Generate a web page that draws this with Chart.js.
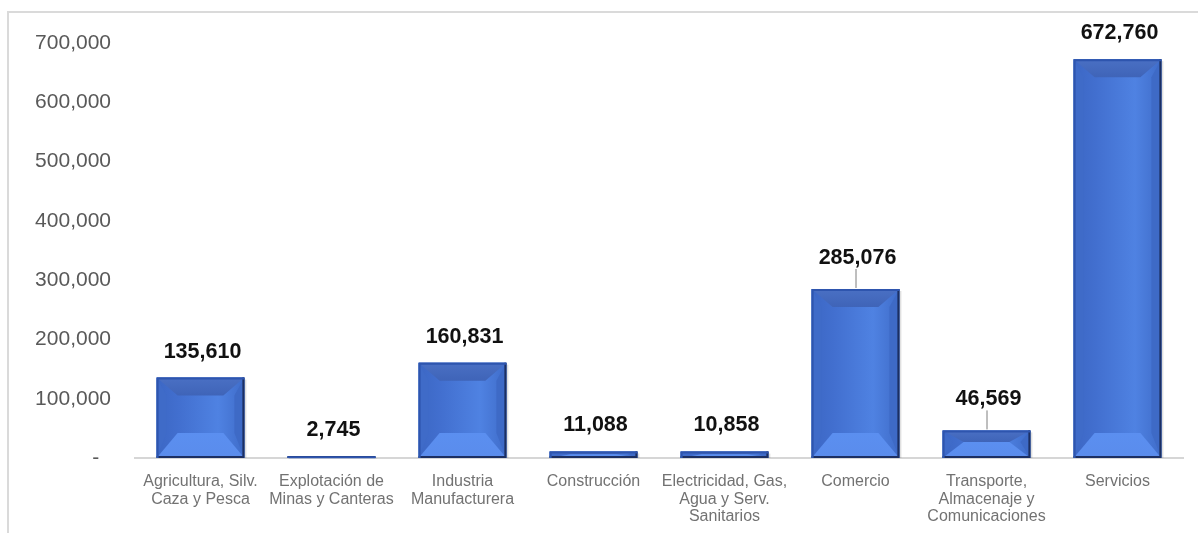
<!DOCTYPE html>
<html>
<head>
<meta charset="utf-8">
<script src="https://cdn.jsdelivr.net/npm/chart.js@4/dist/chart.umd.min.js"></script>
<style>
  html, body { margin: 0; padding: 0; background: #fff; }
  #wrap { position: relative; width: 1198px; height: 533px; }
  #frame { position: absolute; left: 7px; top: 11px; right: 0; bottom: 0;
           border-top: 2px solid #dadada; border-left: 2px solid #dadada; }
  canvas { position: absolute; left: 0; top: 0; }
</style>
</head>
<body>
<div id="wrap">
  <div id="frame"></div>
  <canvas id="chart" width="1198" height="533"></canvas>
</div>
<script>
const categories = [
    ['Agricultura, Silv.', 'Caza y Pesca'],
    ['Explotación de', 'Minas y Canteras'],
    ['Industria', 'Manufacturera'],
    'Construcción',
    ['Electricidad, Gas,', 'Agua y Serv.', 'Sanitarios'],
    'Comercio',
    ['Transporte,', 'Almacenaje y', 'Comunicaciones'],
    'Servicios'
];
const values = [135610, 2745, 160831, 11088, 10858, 285076, 46569, 672760];
const yTicks = [0, 100000, 200000, 300000, 400000, 500000, 600000, 700000];

let fmt = (v) => v.toLocaleString('en-US');

let poly = (ctx, pts, color) => {
    ctx.fillStyle = color;
    ctx.beginPath();
    ctx.moveTo(pts[0][0], pts[0][1]);
    for (let i = 1; i < pts.length; i++) ctx.lineTo(pts[i][0], pts[i][1]);
    ctx.closePath();
    ctx.fill();
}

// bevel look for each bar, drawn over the library's bar rectangles
let bevelPlugin = {
    id: 'bevel',
    afterDatasetsDraw(chart) {
        let ctx = chart.ctx;
        chart.getDatasetMeta(0).data.forEach((bar) => {
            let p = bar.getProps(['x', 'y', 'base', 'width'], true);
            let l = p.x - p.width / 2, r = p.x + p.width / 2;
            let t = p.y, b = p.base;
            let h = b - t;
            if (h < 1) return;
            let k = Math.min(1, h / 43);
            let dt = 18 * k, db = 25 * k, sx = 10, ix = 21;
            ctx.save();
            // center face
            let g = ctx.createLinearGradient(l, 0, r, 0);
            g.addColorStop(0, '#3c67c4');
            g.addColorStop(0.25, '#426fcf');
            g.addColorStop(0.7, '#4f82e2');
            g.addColorStop(1, '#3f6cc9');
            ctx.fillStyle = g;
            ctx.fillRect(l, t, p.width, h);
            // side strips
            poly(ctx, [[l, t], [l + sx, t + dt], [l + sx, b - db], [l, b]], '#3f6bc8');
            poly(ctx, [[r, t], [r - sx, t + dt], [r - sx, b - db], [r, b]], '#3e6ac6');
            // top face
            let gt = ctx.createLinearGradient(0, t, 0, t + dt);
            gt.addColorStop(0, '#4a70c4');
            gt.addColorStop(1, '#3f64b8');
            ctx.fillStyle = gt;
            ctx.beginPath();
            ctx.moveTo(l, t); ctx.lineTo(r, t); ctx.lineTo(r - ix, t + dt); ctx.lineTo(l + ix, t + dt);
            ctx.closePath();
            ctx.fill();
            // bottom face
            let gb = ctx.createLinearGradient(0, b - db, 0, b);
            gb.addColorStop(0, '#5b8ff0');
            gb.addColorStop(1, '#5a8cec');
            ctx.fillStyle = gb;
            ctx.beginPath();
            ctx.moveTo(l, b); ctx.lineTo(r, b); ctx.lineTo(r - ix, b - db); ctx.lineTo(l + ix, b - db);
            ctx.closePath();
            ctx.fill();
            // outlines
            ctx.lineWidth = 2;
            ctx.strokeStyle = '#1c2f62';
            ctx.beginPath();
            ctx.moveTo(r - 1, t); ctx.lineTo(r - 1, b - 1); ctx.lineTo(l, b - 1);
            ctx.stroke();
            ctx.strokeStyle = '#2e55ae';
            ctx.beginPath();
            ctx.moveTo(l + 1, b); ctx.lineTo(l + 1, t + 1); ctx.lineTo(r, t + 1);
            ctx.stroke();
            // faint shadow on the right
            ctx.fillStyle = 'rgba(0,0,0,0.12)';
            ctx.fillRect(r, t + 2, 2, h - 2);
            ctx.restore();
        });
    }
};

let labelPlugin = {
    id: 'valueLabels',
    afterDatasetsDraw(chart, args, opts) {
        let ctx = chart.ctx;
        ctx.save();
        ctx.font = 'bold 21.5px "Liberation Sans", Arial, sans-serif';
        ctx.fillStyle = '#111';
        ctx.textAlign = 'center';
        ctx.textBaseline = 'middle';
        chart.getDatasetMeta(0).data.forEach((bar, i) => {
            let lead = opts.leader.includes(i);
            let ly = bar.y - (lead ? 31 : 26);
            ctx.fillText(fmt(chart.data.datasets[0].data[i]), bar.x + 2, ly);
            if (lead) {
                ctx.strokeStyle = '#7f7f7f';
                ctx.lineWidth = 1;
                ctx.beginPath();
                ctx.moveTo(bar.x + 0.5, ly + 11);
                ctx.lineTo(bar.x + 0.5, bar.y - 1);
                ctx.stroke();
            }
        });
        ctx.restore();
    }
};

let ctx = document.querySelector('#chart').getContext('2d');
let chart = new Chart(ctx, {
    type: 'bar',
    data: {
        labels: categories,
        datasets: [{
            data: values,
            backgroundColor: '#4472c4',
            borderWidth: 0,
            barPercentage: 0.67,
            categoryPercentage: 1
        }]
    },
    options: {
        responsive: false,
        animation: false,
        devicePixelRatio: 1,
        layout: { padding: { left: 0, top: 43, right: 15, bottom: 0 } },
        plugins: {
            legend: { display: false },
            tooltip: { enabled: false },
            valueLabels: { leader: [5, 6] }
        },
        scales: {
            x: {
                grid: { display: false },
                border: { display: true, color: '#d6d6d6', width: 2 },
                afterFit: (axis) => { axis.height = 75; },
                ticks: {
                    color: '#727272',
                    padding: 7,
                    maxRotation: 0,
                    autoSkip: false,
                    font: { family: '"Liberation Sans", Arial, sans-serif', size: 16, lineHeight: 1.1 }
                }
            },
            y: {
                min: 0,
                max: 700000,
                grid: { display: false },
                border: { display: false },
                afterFit: (axis) => { axis.width = 135; },
                afterBuildTicks: (axis) => { axis.ticks = yTicks.map((v) => ({ value: v })); },
                ticks: {
                    color: '#595959',
                    padding: 16,
                    font: { family: '"Liberation Sans", Arial, sans-serif', size: 21 },
                    callback: (v) => v === 0 ? '-  ' : fmt(v)
                }
            }
        }
    },
    plugins: [bevelPlugin, labelPlugin]
});
</script>
</body>
</html>
